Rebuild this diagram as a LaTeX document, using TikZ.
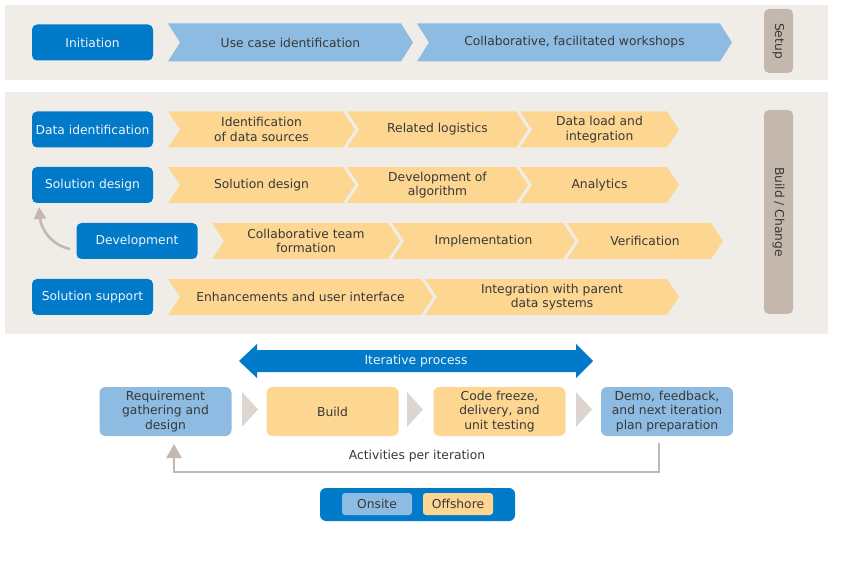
\documentclass[tikz,border=0pt]{standalone}
\usepackage{fontspec}
\setmainfont{DejaVu Sans}
\usetikzlibrary{arrows.meta}
\definecolor{dblue}{HTML}{007AC9}
\definecolor{lblue}{HTML}{8DBBE2}
\definecolor{lyel}{HTML}{FDD692}
\definecolor{bandbg}{HTML}{F0EDE9}
\definecolor{taupe}{HTML}{C4B8AE}
\definecolor{ltaupe}{HTML}{DDD6D0}
\definecolor{txt}{HTML}{383838}
\definecolor{ltxt}{HTML}{EEF4FA}
\tikzset{
  basefont/.style={font=\fontsize{12.3}{14.5}\selectfont},
  darkbox/.style={basefont, fill=dblue, text=ltxt, rounded corners=5pt, minimum width=121pt, minimum height=36pt, inner sep=0pt, align=center},
  chevtext/.style={basefont, text=txt, align=center, inner sep=0pt},
  sidebox/.style={basefont, fill=taupe, text=txt, rounded corners=5pt, rotate=-90, minimum height=29pt, inner sep=0pt},
  iterbox/.style={basefont, text=txt, rounded corners=6pt, minimum width=132pt, minimum height=49pt, inner sep=0pt, align=center},
  legbox/.style={basefont, text=txt, rounded corners=3pt, minimum width=70pt, minimum height=22pt, inner sep=0pt},
  looparrow/.style={draw=taupe, line width=2.5pt, -{Triangle[width=15pt,length=14pt]}},
  curvearrow/.style={draw=taupe, line width=2.6pt, -{Triangle[width=12pt,length=12pt]}},
  steptri/.style={fill=ltaupe}
}
% #1 name, #2 x left, #3 x tip, #4 y top, #5 y bottom, #6 fill, #7 text
\newcommand{\chev}[7]{%
  \fill[#6] (#2,#4) -- ({#3-12},#4) -- (#3,{(#4+#5)/2}) -- ({#3-12},#5) -- (#2,#5) -- ({#2+12},{(#4+#5)/2}) -- cycle;
  \node[chevtext] (#1) at ({(#2+#3)/2},{(#4+#5)/2}) {#7};}
\begin{document}
\begin{tikzpicture}[x=1pt,y=-1pt]
\useasboundingbox (0,0) rectangle (844,580);
% bands
\fill[bandbg] (5,5) rectangle (828,80);
\fill[bandbg] (5,92) rectangle (828,334);
% Setup row
\node[darkbox] (init) at (92.5,42.5) {Initiation};
\chev{usecase}{168}{413}{23.5}{61.5}{lblue}{Use case identification}
\chev{workshops}{417}{732}{23.5}{61.5}{lblue}{Collaborative, facilitated workshops}
\node[sidebox, minimum width=64pt] (setup) at (778.5,41) {Setup};
% Build / Change rows
\node[darkbox] (dataid) at (92.5,129.5) {Data identification};
\chev{idsrc}{168}{355}{111.5}{147.5}{lyel}{Identification\\of data sources}
\chev{logist}{347}{528}{111.5}{147.5}{lyel}{Related logistics}
\chev{dataload}{520}{679}{111.5}{147.5}{lyel}{Data load and\\integration}
\node[darkbox] (soldes) at (92.5,185) {Solution design};
\chev{soldes2}{168}{355}{167}{203}{lyel}{Solution design}
\chev{algo}{347}{528}{167}{203}{lyel}{Development of\\algorithm}
\chev{analytics}{520}{679}{167}{203}{lyel}{Analytics}
\node[darkbox] (dev) at (137,241) {Development};
\chev{team}{212}{400}{223}{259}{lyel}{Collaborative team\\formation}
\chev{impl}{392}{575}{223}{259}{lyel}{Implementation}
\chev{verif}{567}{723}{223}{259}{lyel}{Verification}
\node[darkbox] (solsup) at (92.5,297) {Solution support};
\chev{enh}{168}{433}{279}{315}{lyel}{Enhancements and user interface}
\chev{integ}{425}{679}{279}{315}{lyel}{Integration with parent\\data systems}
\node[sidebox, minimum width=204pt] (build) at (778.5,212) {Build / Change};
\coordinate (ca) at (70,249);
\coordinate (cb) at (39,207);
\draw[curvearrow] (ca) to[out=168,in=-85] (cb);
% Iterative process
\fill[dblue] (239,361) -- (257,344) -- (257,350) -- (576,350) -- (576,344) -- (593,361) -- (576,378) -- (576,372) -- (257,372) -- (257,378) -- cycle;
\node[basefont, text=ltxt, inner sep=0pt] (iter) at (416,361) {Iterative process};
\node[iterbox, fill=lblue] (req) at (165.5,411.5) {Requirement\\gathering and\\design};
\node[iterbox, fill=lyel] (bld) at (332.5,411.5) {Build};
\node[iterbox, fill=lyel] (code) at (499.5,411.5) {Code freeze,\\delivery, and\\unit testing};
\node[iterbox, fill=lblue] (demo) at (667,411.5) {Demo, feedback,\\and next iteration\\plan preparation};
\fill[steptri] (242,392) -- (258,409.5) -- (242,427) -- cycle;
\fill[steptri] (407,392) -- (423,409.5) -- (407,427) -- cycle;
\fill[steptri] (576,392) -- (592,409.5) -- (576,427) -- cycle;
\node[basefont, text=txt, inner sep=0pt] (act) at (417,456) {Activities per iteration};
\coordinate (la) at (659,443);
\coordinate (lb) at (174,444);
\draw[looparrow] (la) -- (659,472) -| (lb);
% legend
\node[fill=dblue, rounded corners=6pt, minimum width=195pt, minimum height=33pt, inner sep=0pt] (legend) at (417.5,504.5) {};
\node[legbox, fill=lblue] (onsite) at (377,504) {Onsite};
\node[legbox, fill=lyel] (offshore) at (458,504) {Offshore};
\end{tikzpicture}
\end{document}
